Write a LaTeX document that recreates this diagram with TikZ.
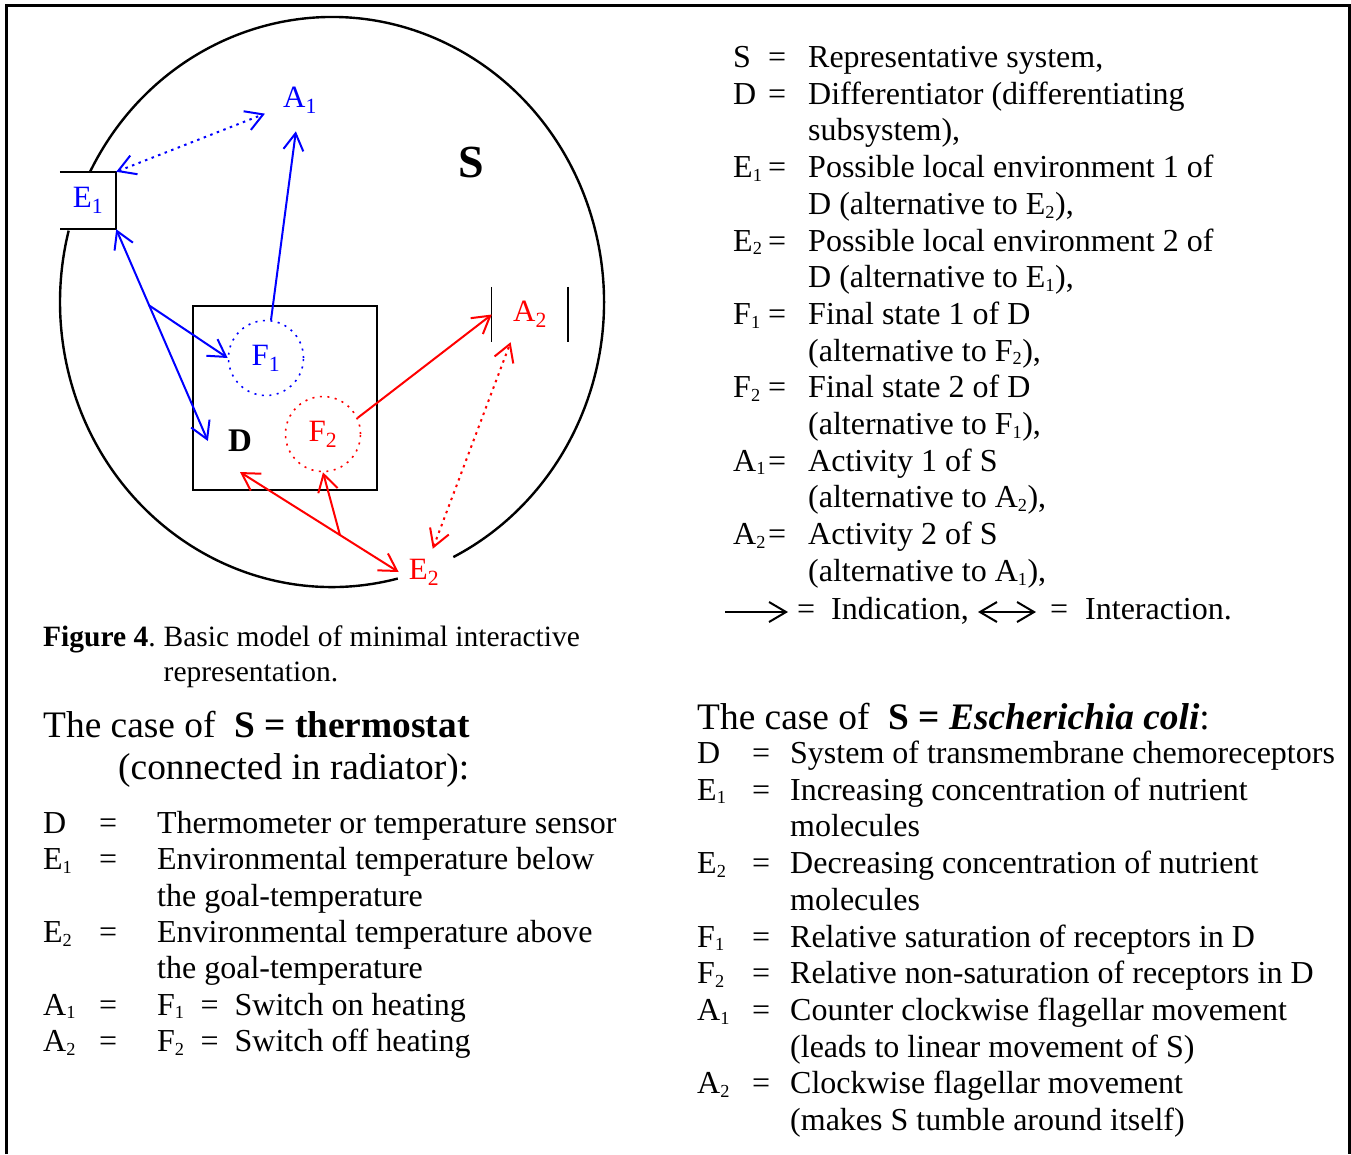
\documentclass[tikz,border=0pt]{standalone}
\usepackage{fontspec}
\setmainfont{Liberation Serif}
\usepackage{xcolor}
\definecolor{repblue}{RGB}{0,0,255}
\definecolor{repred}{RGB}{255,0,0}
\usepackage{tikz}
\usetikzlibrary{arrows.meta,calc}
\newcommand{\sbs}[1]{\textsubscript{\scalebox{0.82}{#1}}}
\newcommand{\dsub}[1]{\textsubscript{#1}}
\newcommand{\bodyfont}{\fontsize{32}{36.7}\selectfont}
\tikzset{
  ind/.style={-{Straight Barb[length=17pt,width=20pt]}, line width=2pt},
  inter/.style={{Straight Barb[length=17pt,width=20pt]}-{Straight Barb[length=17pt,width=20pt]}, line width=2pt},
  dotline/.style={dash pattern=on 2.5pt off 4.5pt},
  fstate/.style={draw, circle, minimum size=75pt, inner sep=0pt, line width=1.6pt, dash pattern=on 2pt off 5.5pt, font=\fontsize{31}{31}\selectfont},
  lbl/.style={font=\fontsize{31}{31}\selectfont, inner sep=0pt},
  leg/.style={anchor=base west, inner sep=0pt, font=\bodyfont},
  sys/.style={line width=2.4pt}
}

\begin{document}
\begin{tikzpicture}[x=1pt, y=-1pt]
  \useasboundingbox (0,0) rectangle (1351,1154);
  \draw[line width=3pt] (6,1154) -- (6,5) -- (1349,5) -- (1349,1154);
  % representative system S
  \coordinate (sc) at (332,302);
  \draw[sys] (sc) ++(76:272 and 285) arc[start angle=76, end angle=194.5, x radius=272, y radius=285];
  \draw[sys] (sc) ++(207.1:272 and 285) arc[start angle=207.1, end angle=423.5, x radius=272, y radius=285];
  \node[font=\fontsize{46}{46}\selectfont\bfseries] (slbl) at (471,162) {S};
  % differentiator D
  \node[draw, line width=2.5pt, minimum size=184pt, inner sep=0pt] (dbox) at (285,398) {};
  \node[lbl, font=\fontsize{33}{33}\selectfont\bfseries, inner sep=20pt] (dlbl) at (240,441) {D};
  \node[fstate, repblue] (f1) at (266,358) {F\dsub{1}};
  \node[fstate, repred] (f2) at (323,434) {F\dsub{2}};
  % environments and activities
  \node[lbl, minimum width=56pt, minimum height=57pt, text=repblue] (e1) at (88,200.5) {E\dsub{1}};
  \draw[line width=1.8pt] (e1.north west) -- (e1.north east) -- (e1.south east) -- (e1.south west);
  \node[lbl, inner sep=10pt, text=repred] (e2) at (424,572) {E\dsub{2}};
  \node[lbl, inner sep=18pt, text=repblue] (a1) at (300,100) {A\dsub{1}};
  \node[lbl, minimum width=76pt, minimum height=55pt, text=repred] (a2) at (530,314.5) {A\dsub{2}};
  \draw[line width=1pt] (a2.north west) -- (a2.south west);
  \draw[line width=2pt] (a2.north east) -- (a2.south east);
  % indications and interactions
  \draw[inter, repblue, dotline] (e1.north east) -- (a1);
  \draw[inter, repblue] (e1.south east) -- (dlbl.west);
  \coordinate (b1) at ($(e1.south east)!0.36!(dlbl.west)$);
  \draw[ind, repblue] (b1) -- (f1.west);
  \draw[ind, repblue] (f1) -- (a1);
  \draw[inter, repred] (dlbl.south) -- (e2.west);
  \coordinate (b2) at ($(dlbl.south)!0.63!(e2.west)$);
  \draw[ind, repred] (b2) -- (f2.south);
  \draw[ind, repred] (f2.25) -- (a2.west);
  \draw[inter, repred, dotline] (e2) -- (a2.235);
  % legend
  \node[leg] (legend) at (733,67.5) {\begin{tabular}[t]{@{}p{35pt}@{}p{40pt}@{}l@{}}
    S & = & Representative system,\\
    D & = & Differentiator (differentiating\\
      &   & subsystem),\\
    E\sbs{1} & = & Possible local environment 1 of\\
      &   & D (alternative to E\sbs{2}),\\
    E\sbs{2} & = & Possible local environment 2 of\\
      &   & D (alternative to E\sbs{1}),\\
    F\sbs{1} & = & Final state 1 of D\\
      &   & (alternative to F\sbs{2}),\\
    F\sbs{2} & = & Final state 2 of D\\
      &   & (alternative to F\sbs{1}),\\
    A\sbs{1} & = & Activity 1 of S\\
      &   & (alternative to A\sbs{2}),\\
    A\sbs{2} & = & Activity 2 of S\\
      &   & (alternative to A\sbs{1}),
  \end{tabular}};
  \coordinate (ind0) at (725,612);
  \coordinate (ind1) at (788,612);
  \draw[ind] (ind0) -- (ind1);
  \node[leg] (eqa) at (797,619.5) {=};
  \node[leg] (indic) at (831,619.5) {Indication,};
  \coordinate (int0) at (978,612);
  \coordinate (int1) at (1036,612);
  \draw[inter] (int0) -- (int1);
  \node[leg] (eqb) at (1050,619.5) {=};
  \node[leg] (interac) at (1085,619.5) {Interaction.};
  % caption
  \node[leg, font=\fontsize{29.5}{35}\selectfont] (caption) at (43,646.5) {\begin{tabular}[t]{@{}l@{\hspace{8pt}}l@{}}
    \textbf{Figure 4}. & Basic model of minimal interactive\\
    & representation.
  \end{tabular}};
  % thermostat case
  \node[leg, font=\fontsize{37.4}{42}\selectfont] (thermo) at (43,737.5) {\begin{tabular}[t]{@{}l@{}}
    The case of\ \ \textbf{S = thermostat}\\
    \hspace{75pt}(connected in radiator):
  \end{tabular}};
  \node[leg, font=\fontsize{32}{36.3}\selectfont] (thermlist) at (43,833.5) {\begin{tabular}[t]{@{}p{56pt}@{}p{58pt}@{}l@{}}
    D & = & Thermometer or temperature sensor\\
    E\sbs{1} & = & Environmental temperature below\\
      &   & the goal-temperature\\
    E\sbs{2} & = & Environmental temperature above\\
      &   & the goal-temperature\\
    A\sbs{1} & = & F\sbs{1}\ \ =\ \ Switch on heating\\
    A\sbs{2} & = & F\sbs{2}\ \ =\ \ Switch off heating
  \end{tabular}};
  % E. coli case
  \node[leg, font=\fontsize{37.4}{42}\selectfont] (ecoli) at (697,729.5) {The case of\ \ \textbf{S = \textit{Escherichia coli}}:};
  \node[leg] (ecolilist) at (697,763.5) {\begin{tabular}[t]{@{}p{55pt}@{}p{38pt}@{}l@{}}
    D & = & System of transmembrane chemoreceptors\\
    E\sbs{1} & = & Increasing concentration of nutrient\\
      &   & molecules\\
    E\sbs{2} & = & Decreasing concentration of nutrient\\
      &   & molecules\\
    F\sbs{1} & = & Relative saturation of receptors in D\\
    F\sbs{2} & = & Relative non-saturation of receptors in D\\
    A\sbs{1} & = & Counter clockwise flagellar movement\\
      &   & (leads to linear movement of S)\\
    A\sbs{2} & = & Clockwise flagellar movement\\
      &   & (makes S tumble around itself)
  \end{tabular}};
\end{tikzpicture}
\end{document}
